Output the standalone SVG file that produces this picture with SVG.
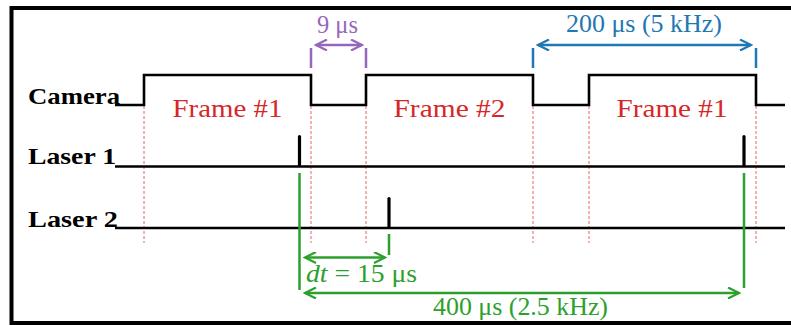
<svg xmlns="http://www.w3.org/2000/svg" width="791" height="325" viewBox="0 0 791 325">
<style>
.sig{fill:none;stroke:#000;stroke-width:2.6}
.pulse{fill:none;stroke:#000;stroke-width:3.2;stroke-linecap:round}
.dash{fill:none;stroke:#e0474a;stroke-width:1;stroke-dasharray:3 2;opacity:0.85}
.lbl{font-family:"Liberation Serif",serif;font-weight:bold;font-size:23px;fill:#000}
.frm{font-family:"Liberation Serif",serif;font-size:25px;fill:#d62728}
.txt{font-family:"Liberation Serif",serif;font-size:25px}
.pu{stroke:#9467bd;fill:none;stroke-width:2.5}
.bl{stroke:#1f77b4;fill:none;stroke-width:2.5}
.gr{stroke:#2ca02c;fill:none;stroke-width:2.5}
</style>
<defs>
<marker id="hp" viewBox="-12 -6 14 12" refX="0" refY="0" markerWidth="14" markerHeight="12" markerUnits="userSpaceOnUse" orient="auto-start-reverse"><path d="M-11 -5.5 L0 0 L-11 5.5" fill="none" stroke="#9467bd" stroke-width="2.2"/></marker>
<marker id="hb" viewBox="-12 -6 14 12" refX="0" refY="0" markerWidth="14" markerHeight="12" markerUnits="userSpaceOnUse" orient="auto-start-reverse"><path d="M-11 -5.5 L0 0 L-11 5.5" fill="none" stroke="#1f77b4" stroke-width="2.2"/></marker>
<marker id="hg" viewBox="-12 -6 14 12" refX="0" refY="0" markerWidth="14" markerHeight="12" markerUnits="userSpaceOnUse" orient="auto-start-reverse"><path d="M-11 -5.5 L0 0 L-11 5.5" fill="none" stroke="#2ca02c" stroke-width="2.2"/></marker>
</defs>
<rect width="791" height="325" fill="#fff"/>
<!-- frame -->
<path d="M791 8 H11.5 V323 H791" fill="none" stroke="#000" stroke-width="4"/>
<path d="M11.5 323 H791" fill="none" stroke="#000" stroke-width="2"/>

<g id="dashes">
<path class="dash" d="M144 106 V243 M311 106 V243 M366 106 V243 M533 106 V243 M589 106 V243 M756 106 V243"/>
</g>

<g id="camera">
<text class="lbl" x="28" y="104" textLength="92" lengthAdjust="spacingAndGlyphs">Camera</text>
<path class="sig" d="M115 105 H144 V75 H311 V105 H366 V75 H533 V105 H589 V75 H756 V105 H785"/>
</g>
<g id="laser1">
<text class="lbl" x="28" y="164" textLength="88" lengthAdjust="spacingAndGlyphs">Laser 1</text>
<path class="sig" d="M115 166.5 H785"/>
<path class="pulse" d="M299.5 165 V136.5 M744 165 V136.5"/>
</g>
<g id="laser2">
<text class="lbl" x="28" y="227" textLength="90" lengthAdjust="spacingAndGlyphs">Laser 2</text>
<path class="sig" d="M115 228 H785"/>
<path class="pulse" d="M389 227 V198.5"/>
</g>

<g id="frames">
<text class="frm" x="227.5" y="117" text-anchor="middle" textLength="110" lengthAdjust="spacingAndGlyphs">Frame #1</text>
<text class="frm" x="449.5" y="117" text-anchor="middle" textLength="112" lengthAdjust="spacingAndGlyphs">Frame #2</text>
<text class="frm" x="672" y="117" text-anchor="middle" textLength="111" lengthAdjust="spacingAndGlyphs">Frame #1</text>
</g>

<g id="connectors">
<path class="pu" d="M311 48 V68 M366 48 V68"/>
<path class="pu" d="M316 45 H362" marker-start="url(#hp)" marker-end="url(#hp)"/>
<path class="bl" d="M533 48 V68 M756 48 V68"/>
<path class="bl" d="M538 45 H751" marker-start="url(#hb)" marker-end="url(#hb)"/>
<path class="gr" d="M299.5 173 V290 M744 173 V288 M389 234 V255"/>
<path class="gr" d="M305 257.5 H385" marker-start="url(#hg)" marker-end="url(#hg)"/>
<path class="gr" d="M305 293 H739" marker-start="url(#hg)" marker-end="url(#hg)"/>
</g>

<g id="labels">
<text class="txt" x="337.5" y="33" text-anchor="middle" fill="#9467bd" textLength="41" lengthAdjust="spacingAndGlyphs">9 μs</text>
<text class="txt" x="644" y="32" text-anchor="middle" fill="#1f77b4" textLength="156" lengthAdjust="spacingAndGlyphs">200 μs (5 kHz)</text>
<text class="txt" x="306" y="282" fill="#2ca02c" textLength="111" lengthAdjust="spacingAndGlyphs"><tspan font-style="italic">dt</tspan> = 15 μs</text>
<text class="txt" x="520.5" y="315" text-anchor="middle" fill="#2ca02c" textLength="175" lengthAdjust="spacingAndGlyphs">400 μs (2.5 kHz)</text>
</g>
</svg>
